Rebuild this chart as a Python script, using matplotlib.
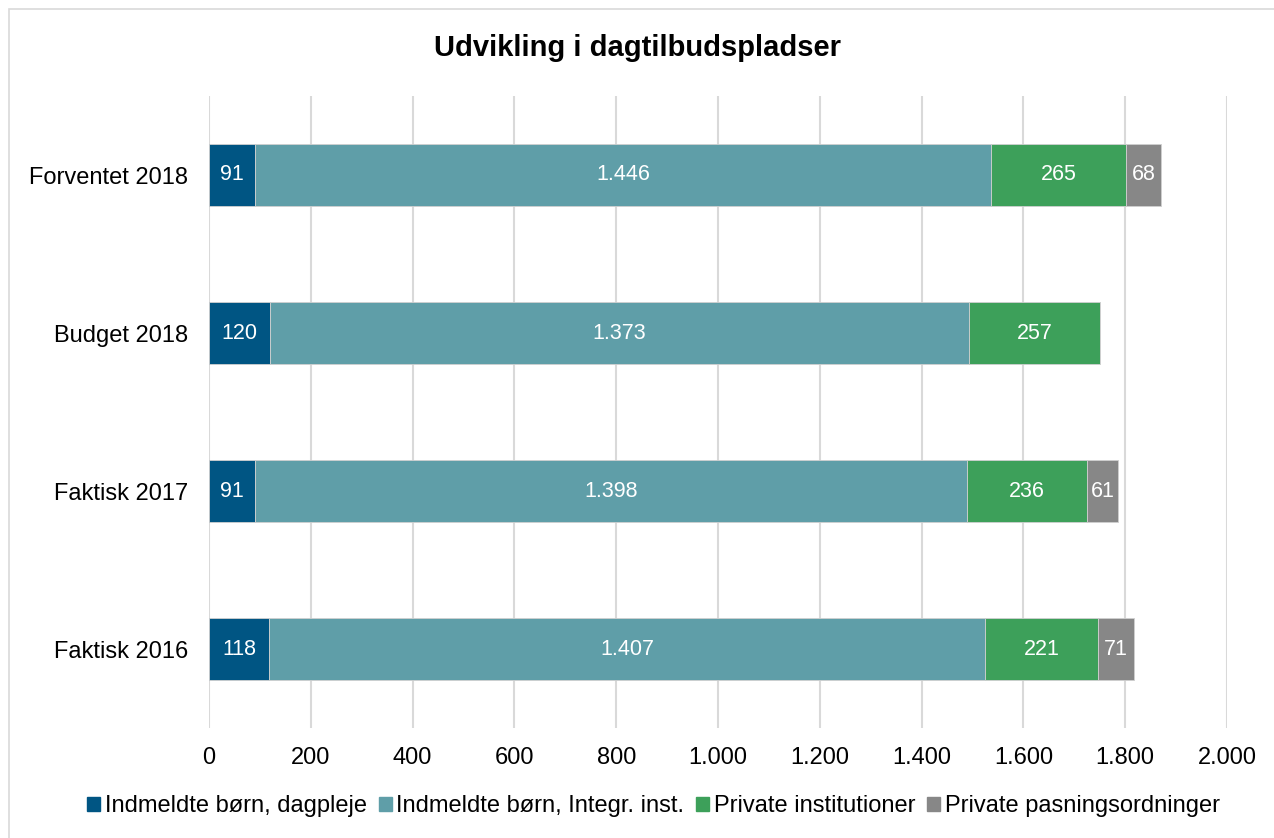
import matplotlib.pyplot as plt
import matplotlib.patches as mpatches
from matplotlib.ticker import FuncFormatter

plt.rcParams['font.family'] = ['Liberation Sans', 'DejaVu Sans']

categories = ['Faktisk 2016', 'Faktisk 2017', 'Budget 2018', 'Forventet 2018']
series_names = ['Indmeldte børn, dagpleje', 'Indmeldte børn, Integr. inst.',
                'Private institutioner', 'Private pasningsordninger']
dagpleje = [118, 91, 120, 91]
integr = [1407, 1398, 1373, 1446]
private_inst = [221, 236, 257, 265]
private_pasning = [71, 61, 0, 68]
colors = ['#005583', '#5F9EA8', '#3DA05A', '#878787']


def dk(v, pos=None):
    return '{:,.0f}'.format(v).replace(',', '.')


fig = plt.figure(figsize=(12.74, 8.38), dpi=100)
ax = fig.add_axes([209 / 1274, 1 - 728 / 838, 1018 / 1274, 632 / 838])

# Border around chart area
fig.patches.append(mpatches.Rectangle((9 / 1274, -0.01), 1.1, 1 - 9 / 838 + 0.01,
                                      transform=fig.transFigure, fill=False,
                                      edgecolor='#d9d9d9', linewidth=1.2))

y = list(range(len(categories)))
left = [0] * len(categories)
for name, vals, col in zip(series_names, [dagpleje, integr, private_inst, private_pasning], colors):
    bars = ax.barh(y, vals, left=left, height=0.39, color=col, edgecolor='#d0d0d0',
                   linewidth=0.6, label=name, zorder=3)
    for b, v in zip(bars, vals):
        if v > 0:
            ax.text(b.get_x() + b.get_width() / 2, b.get_y() + b.get_height() / 2, dk(v),
                    ha='center', va='center', color='white', fontsize=15.5, zorder=4)
    left = [l + v for l, v in zip(left, vals)]

ax.set_xlim(0, 2000)
ax.set_ylim(-0.5, 3.5)
ax.set_xticks(range(0, 2001, 200))
ax.xaxis.set_major_formatter(FuncFormatter(dk))
ax.set_yticks(y)
ax.set_yticklabels(categories)
ax.grid(axis='x', color='#d9d9d9', linewidth=1.5, zorder=0)
for s in ax.spines.values():
    s.set_visible(False)
ax.tick_params(axis='both', length=0, labelsize=17)
ax.tick_params(axis='x', pad=14)
ax.tick_params(axis='y', pad=15)

fig.text(0.5, 1 - 48 / 838, 'Udvikling i dagtilbudspladser', ha='center', va='center',
         fontsize=21, fontweight='bold')

handles = [mpatches.Patch(color=c) for c in colors]
fig.legend(handles, series_names, loc='center', bbox_to_anchor=(0.513, 1 - 806 / 838),
           ncol=4, frameon=False, fontsize=17, handlelength=0.55, handleheight=0.55,
           handletextpad=0.2, columnspacing=0.5)

fig.savefig('out.png', dpi=100)
